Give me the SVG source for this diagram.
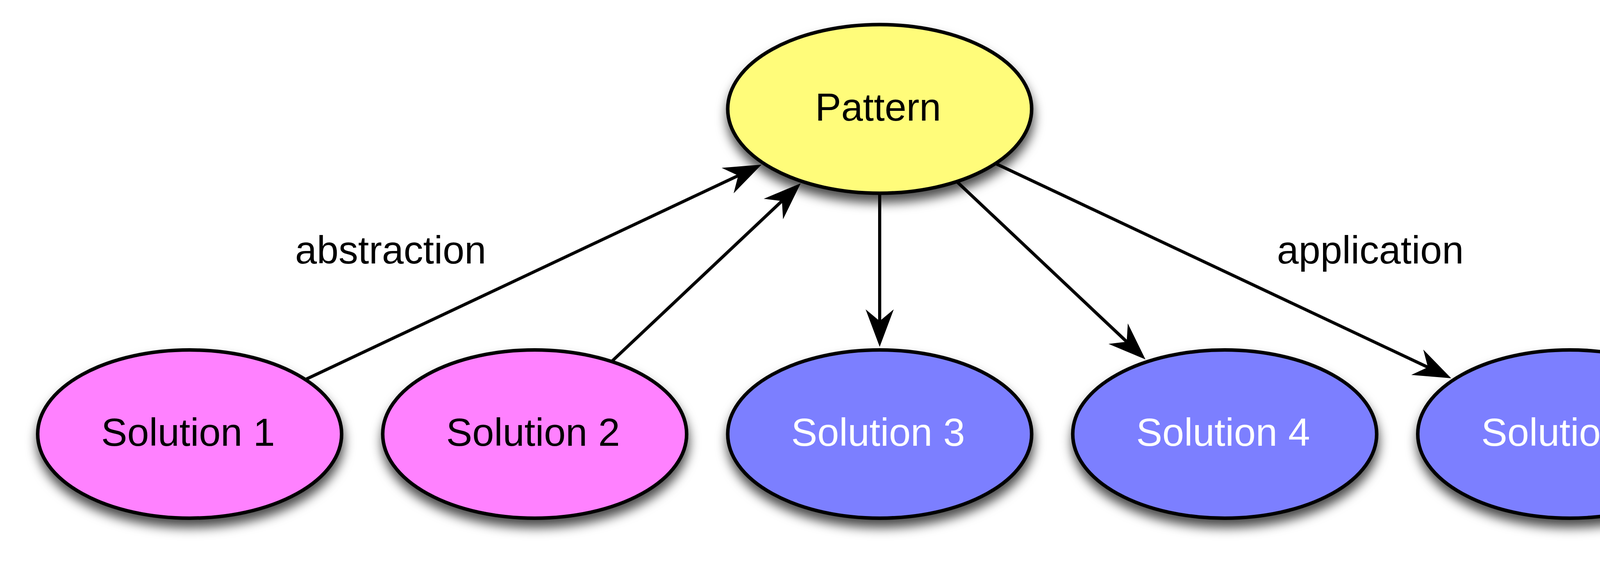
<svg xmlns="http://www.w3.org/2000/svg" width="4500" height="1450" viewBox="0 0 4500 1450">
  <style>
    .node { stroke: #000; stroke-width: 9; filter: url(#shadow); }
    .pattern { fill: #FFFC7A; }
    .pink { fill: #FF81FF; }
    .blue { fill: #7B7FFF; }
    text { font-family: "Liberation Sans", Arial, Helvetica, sans-serif; font-size: 100px; text-anchor: middle; }
    .dark { fill: #000; }
    .light { fill: #FFF; }
    .edge { stroke: #000; stroke-width: 8; fill: none; marker-end: url(#arrow); }
  </style>
  <defs>
    <filter id="shadow" x="-20%" y="-30%" width="140%" height="170%">
      <feGaussianBlur in="SourceAlpha" stdDeviation="14"/>
      <feOffset dx="2" dy="20" result="b"/>
      <feFlood flood-color="#000" flood-opacity="0.7"/>
      <feComposite in2="b" operator="in" result="s"/>
      <feMerge>
        <feMergeNode in="s"/>
        <feMergeNode in="SourceGraphic"/>
      </feMerge>
    </filter>
    <marker id="arrow" markerUnits="userSpaceOnUse" viewBox="-40 -40 104 80" refX="0" refY="0" markerWidth="104" markerHeight="80" orient="auto" overflow="visible">
      <path d="M60,0 L-36,-36 L-6,0 L-36,36 Z" fill="#000"/>
    </marker>
  </defs>
  <rect width="4500" height="1450" fill="#FFFFFF"/>

  <g id="node-pattern">
    <ellipse class="node pattern" cx="2252" cy="279" rx="389" ry="216"/>
    <text class="dark" x="2248" y="309">Pattern</text>
  </g>
  <g id="node-solution1">
    <ellipse class="node pink" cx="485.5" cy="1112" rx="389" ry="215.5"/>
    <text class="dark" x="481.5" y="1142">Solution 1</text>
  </g>
  <g id="node-solution2">
    <ellipse class="node pink" cx="1368.75" cy="1112" rx="389" ry="215.5"/>
    <text class="dark" x="1364.75" y="1142">Solution 2</text>
  </g>
  <g id="node-solution3">
    <ellipse class="node blue" cx="2252" cy="1112" rx="389" ry="215.5"/>
    <text class="light" x="2248" y="1142">Solution 3</text>
  </g>
  <g id="node-solution4">
    <ellipse class="node blue" cx="3135.25" cy="1112" rx="389" ry="215.5"/>
    <text class="light" x="3131.25" y="1142">Solution 4</text>
  </g>
  <g id="node-solution5">
    <ellipse class="node blue" cx="4018.5" cy="1112" rx="389" ry="215.5"/>
    <text class="light" x="4014.5" y="1142">Solution 5</text>
  </g>

  <g id="connectors">
    <line class="edge" x1="781.7" y1="972.3" x2="1895.3" y2="447.3"/>
    <line class="edge" x1="1565.8" y1="926.2" x2="2006.1" y2="510.8"/>
    <line class="edge" x1="2252" y1="495" x2="2252" y2="828.5"/>
    <line class="edge" x1="2449.8" y1="465.5" x2="2888.7" y2="879.5"/>
    <line class="edge" x1="2549" y1="419.1" x2="3660.8" y2="943.3"/>
  </g>

  <g id="labels">
    <text class="dark" x="1000" y="675">abstraction</text>
    <text class="dark" x="3508" y="675">application</text>
  </g>
</svg>
